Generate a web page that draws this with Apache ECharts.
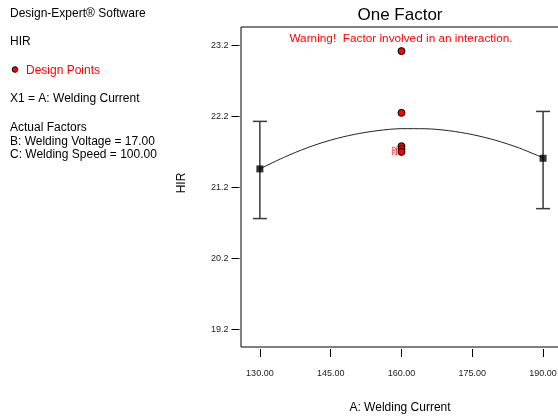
<!DOCTYPE html>
<html><head><meta charset="utf-8">
<script src="https://cdn.jsdelivr.net/npm/echarts@6/dist/echarts.min.js"></script>
<style>html,body{margin:0;padding:0;background:#fff}#c{width:558px;height:419px}</style>
</head><body><div id="c"></div>
<script>
// ---- data ----
const xTicks = [130, 145, 160, 175, 190];
const yTicks = [19.2, 20.2, 21.2, 22.2, 23.2];
const curveX = [130, 135, 140, 145, 150, 155, 160, 165, 170, 175, 180, 185, 190];
const curveY = [21.46, 21.62, 21.757, 21.866, 21.946, 22.0, 22.027, 22.026, 21.999, 21.944, 21.862, 21.753, 21.616];
const meanX = [130, 190];
const meanY = [21.46, 21.61];
const lowY = [20.76, 20.90];
const highY = [22.13, 22.27];
const designX = [160, 160, 160, 160, 160];
const designY = [23.12, 22.25, 21.78, 21.74, 21.70];
const designCount = ['', '', '2', '3', '2'];
const leftNotes = ['Design-Expert® Software', 'HIR', 'Design Points', 'X1 = A: Welding Current', 'Actual Factors', 'B: Welding Voltage = 17.00', 'C: Welding Speed = 100.00'];

const FONT = 'Liberation Sans, Arial, sans-serif';
const chart = echarts.init(document.getElementById('c'), null, {renderer: 'canvas'});

const curveData = curveX.map((x, i) => [x, curveY[i]]);
const meanData = meanX.map((x, i) => [x, meanY[i]]);
const barData = meanX.map((x, i) => [x, lowY[i], highY[i]]);
const designData = designX.map((x, i) => ({value: [x, designY[i]], cnt: designCount[i]}));

const leftY = [15, 43, 72, 100, 129, 143, 156];
const graphics = leftNotes.map((t, i) => ({
  type: 'text', left: i === 2 ? 26 : 10, top: leftY[i] - 7,
  style: {text: t, font: '12px ' + FONT, fill: i === 2 ? '#ff0000' : '#000'}
}));
graphics.push({type: 'circle', shape: {cx: 15, cy: 69.5, r: 2.8}, style: {fill: '#ff0000', stroke: '#000', lineWidth: 1}});
graphics.push({type: 'text', x: 400, y: 15, style: {text: 'One Factor', font: '17px ' + FONT, fill: '#000', align: 'center', verticalAlign: 'middle'}});
graphics.push({type: 'text', x: 401, y: 39, style: {text: 'Warning!  Factor involved in an interaction.', font: '11.8px ' + FONT, fill: '#ff0000', align: 'center', verticalAlign: 'middle'}});
graphics.push({type: 'text', x: 400, y: 408, style: {text: 'A: Welding Current', font: '12px ' + FONT, fill: '#000', align: 'center', verticalAlign: 'middle'}});
graphics.push({type: 'text', x: 182, y: 183, rotation: Math.PI / 2, style: {text: 'HIR', font: '12px ' + FONT, fill: '#000', align: 'center', verticalAlign: 'middle'}});

chart.setOption({
  animation: false,
  backgroundColor: '#fff',
  grid: {left: 241, top: 27, width: 330.4, height: 320, outerBoundsMode: 'none', containLabel: false,
    show: true, borderColor: '#000', borderWidth: 1, backgroundColor: 'transparent'},
  xAxis: {
    type: 'value', min: 126, max: 196, offset: 2,
    axisLine: {show: false}, splitLine: {show: false},
    axisTick: {show: true, length: 8, customValues: xTicks, lineStyle: {color: '#000'}},
    axisLabel: {customValues: xTicks, formatter: v => v.toFixed(2), margin: 20, fontSize: 9, fontFamily: FONT, color: '#222'}
  },
  yAxis: {
    type: 'value', min: 18.95, max: 23.46, offset: 1.5,
    axisLine: {show: false}, splitLine: {show: false},
    axisTick: {show: true, length: 8, customValues: yTicks, lineStyle: {color: '#000'}},
    axisLabel: {customValues: yTicks, formatter: v => v.toFixed(1), margin: 11, fontSize: 9, fontFamily: FONT, color: '#222'}
  },
  graphic: graphics,
  series: [
    {type: 'line', data: curveData, smooth: 0.3, showSymbol: false, lineStyle: {color: '#222', width: 1}, z: 2},
    {type: 'custom', data: barData, z: 3,
      renderItem: (params, api) => {
        const x = api.value(0);
        const pLo = api.coord([x, api.value(1)]);
        const pHi = api.coord([x, api.value(2)]);
        const hw = 7, st = {stroke: '#3a3a3a', lineWidth: 1.5};
        return {type: 'group', children: [
          {type: 'line', shape: {x1: pLo[0], y1: pLo[1], x2: pHi[0], y2: pHi[1]}, style: st},
          {type: 'line', shape: {x1: pLo[0] - hw, y1: pLo[1], x2: pLo[0] + hw, y2: pLo[1]}, style: st},
          {type: 'line', shape: {x1: pHi[0] - hw, y1: pHi[1], x2: pHi[0] + hw, y2: pHi[1]}, style: st}
        ]};
      }
    },
    {type: 'scatter', data: meanData, symbol: 'rect', symbolSize: 7, itemStyle: {color: '#000'}, z: 4},
    {type: 'scatter', data: designData, symbol: 'circle', symbolSize: 7, z: 5,
      itemStyle: {color: '#ff0000', borderColor: '#000', borderWidth: 1, opacity: 1},
      label: {show: true, position: 'left', distance: 2, formatter: p => p.data.cnt, fontSize: 7, color: '#ff0000', fontFamily: FONT, rotate: 90}
    }
  ]
});
</script></body></html>
